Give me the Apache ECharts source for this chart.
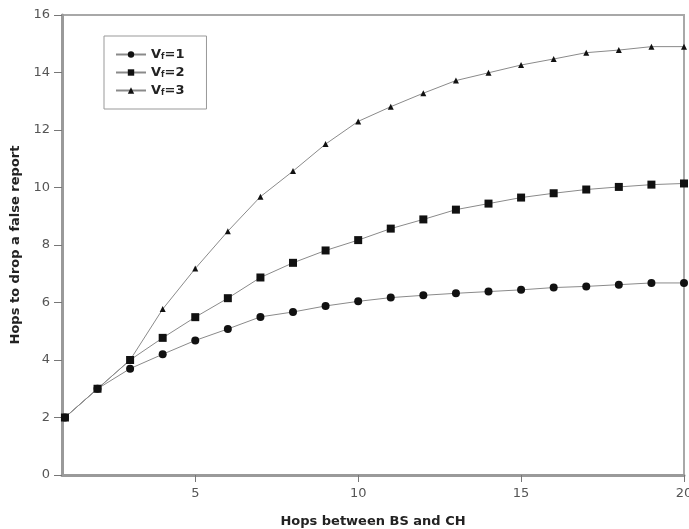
<!DOCTYPE html>
<html>
<head>
<meta charset="utf-8">
<script src="https://cdn.jsdelivr.net/npm/echarts@6/dist/echarts.min.js"></script>
<style>
  html, body { margin: 0; padding: 0; background: #fff; }
  #chart { width: 689px; height: 529px; }
</style>
</head>
<body>
<div id="chart"></div>
<script>
// hops between BS and CH
var hops = [1, 2, 3, 4, 5, 6, 7, 8, 9, 10, 11, 12, 13, 14, 15, 16, 17, 18, 19, 20];
// hops to drop a false report
var vf1 = [2, 3, 3.7, 4.2, 4.68, 5.08, 5.5, 5.67, 5.88, 6.04, 6.17, 6.25, 6.32, 6.38, 6.44, 6.52, 6.56, 6.62, 6.68, 6.68];
var vf2 = [2, 3, 4.0, 4.77, 5.49, 6.15, 6.87, 7.38, 7.81, 8.17, 8.57, 8.89, 9.23, 9.44, 9.65, 9.8, 9.93, 10.02, 10.1, 10.14];
var vf3 = [2, 3, 4.0, 5.77, 7.18, 8.48, 9.68, 10.57, 11.51, 12.3, 12.81, 13.28, 13.72, 13.99, 14.26, 14.47, 14.69, 14.78, 14.9, 14.9];
var xTicks = [5, 10, 15, 20];
var seriesNames = ['Vf=1', 'Vf=2', 'Vf=3'];

function pairs(ys) {
  return hops.map(function (h, i) { return [h, ys[i]]; });
}

var font = 'DejaVu Sans';
var myChart = echarts.init(document.getElementById('chart'));

function line(name, data, symbol, size) {
  return {
    name: name,
    type: 'line',
    data: pairs(data),
    symbol: symbol,
    symbolSize: size,
    clip: false,
    lineStyle: { color: '#8a8a8a', width: 1 },
    itemStyle: { color: '#111', borderWidth: 0 },
    emphasis: { disabled: true },
    animation: false
  };
}

var option = {
  animation: false,
  grid: {
    left: 62, right: 5, top: 15, bottom: 54,
    outerBoundsMode: 'none',
    show: true,
    borderColor: '#a8a8a8',
    borderWidth: 2
  },
  legend: {
    orient: 'vertical',
    left: 104,
    top: 36,
    padding: [12, 22, 12, 11],
    itemWidth: 30,
    itemHeight: 8,
    itemGap: 5,
    borderColor: '#999',
    borderWidth: 1,
    backgroundColor: '#fff',
    data: seriesNames,
    formatter: function (n) {
      return 'V{s|f}' + n.slice(2);
    },
    textStyle: {
      fontFamily: font,
      fontSize: 13,
      fontWeight: 'bold',
      color: '#222',
      rich: {
        s: { fontFamily: font, fontSize: 8, fontWeight: 'bold', color: '#222', verticalAlign: 'bottom', padding: [4, 0, 0, 0] }
      }
    }
  },
  xAxis: {
    type: 'value',
    min: 0.91,
    max: 20,
    name: 'Hops between BS and CH',
    nameLocation: 'middle',
    nameGap: 40,
    nameTextStyle: { fontFamily: font, fontSize: 13, fontWeight: 'bold', color: '#222' },
    axisLine: { show: true, onZero: false, lineStyle: { color: '#9a9a9a', width: 3 } },
    axisTick: { show: true, customValues: xTicks, length: 7, lineStyle: { color: '#777', width: 1 } },
    axisLabel: { customValues: xTicks, margin: 12, fontFamily: font, fontSize: 13, color: '#555' },
    splitLine: { show: false }
  },
  yAxis: {
    type: 'value',
    min: 0,
    max: 16,
    interval: 2,
    name: 'Hops to drop a false report',
    nameLocation: 'middle',
    nameGap: 38,
    nameTextStyle: { fontFamily: font, fontSize: 13, fontWeight: 'bold', color: '#222' },
    axisLine: { show: true, onZero: false, lineStyle: { color: '#9a9a9a', width: 3 } },
    axisTick: { show: true, length: 8, lineStyle: { color: '#777', width: 1 } },
    axisLabel: { margin: 12, fontFamily: font, fontSize: 13, color: '#555' },
    splitLine: { show: false }
  },
  series: [
    line(seriesNames[0], vf1, 'circle', 8),
    line(seriesNames[1], vf2, 'rect', 8),
    line(seriesNames[2], vf3, 'triangle', 6)
  ]
};
myChart.setOption(option);
</script>
</body>
</html>
